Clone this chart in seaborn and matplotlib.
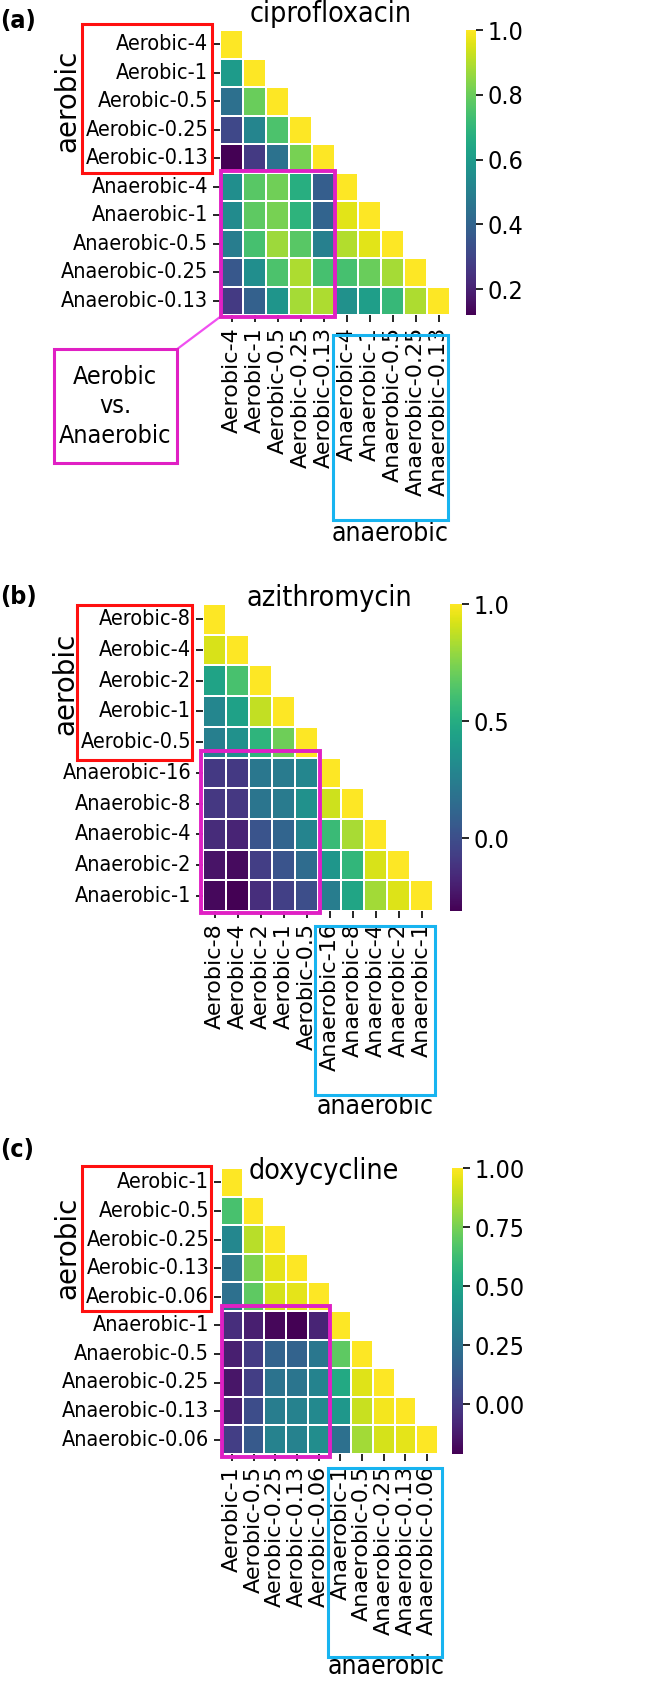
import numpy as np
import pandas as pd
import matplotlib
matplotlib.use("Agg")
import matplotlib.pyplot as plt
import seaborn as sns
from matplotlib.patches import Rectangle

# ---- data (lower triangle, row by row) ----
cipro_labels = ["Aerobic-4", "Aerobic-1", "Aerobic-0.5", "Aerobic-0.25", "Aerobic-0.13",
                "Anaerobic-4", "Anaerobic-1", "Anaerobic-0.5", "Anaerobic-0.25", "Anaerobic-0.13"]
cipro_rows = [
    [1.0],
    [0.60, 1.0],
    [0.44, 0.80, 1.0],
    [0.31, 0.52, 0.75, 1.0],
    [0.12, 0.27, 0.45, 0.82, 1.0],
    [0.55, 0.77, 0.81, 0.67, 0.38, 1.0],
    [0.54, 0.78, 0.82, 0.69, 0.40, 0.96, 1.0],
    [0.49, 0.74, 0.87, 0.77, 0.50, 0.90, 0.96, 1.0],
    [0.36, 0.55, 0.75, 0.89, 0.74, 0.74, 0.80, 0.88, 1.0],
    [0.27, 0.39, 0.58, 0.88, 0.89, 0.56, 0.61, 0.71, 0.89, 1.0],
]

azi_labels = ["Aerobic-8", "Aerobic-4", "Aerobic-2", "Aerobic-1", "Aerobic-0.5",
              "Anaerobic-16", "Anaerobic-8", "Anaerobic-4", "Anaerobic-2", "Anaerobic-1"]
azi_rows = [
    [1.0],
    [0.92, 1.0],
    [0.45, 0.62, 1.0],
    [0.29, 0.44, 0.88, 1.0],
    [0.25, 0.35, 0.54, 0.71, 1.0],
    [-0.09, -0.09, 0.21, 0.23, 0.29, 1.0],
    [-0.10, -0.10, 0.20, 0.23, 0.35, 0.90, 1.0],
    [-0.15, -0.18, 0.03, 0.11, 0.28, 0.58, 0.83, 1.0],
    [-0.24, -0.27, -0.07, 0.03, 0.15, 0.38, 0.55, 0.92, 1.0],
    [-0.28, -0.31, -0.14, -0.06, 0.00, 0.24, 0.46, 0.82, 0.93, 1.0],
]

doxy_labels = ["Aerobic-1", "Aerobic-0.5", "Aerobic-0.25", "Aerobic-0.13", "Aerobic-0.06",
               "Anaerobic-1", "Anaerobic-0.5", "Anaerobic-0.25", "Anaerobic-0.13", "Anaerobic-0.06"]
doxy_rows = [
    [1.0],
    [0.65, 1.0],
    [0.35, 0.87, 1.0],
    [0.25, 0.76, 0.95, 1.0],
    [0.23, 0.70, 0.92, 0.95, 1.0],
    [-0.05, -0.11, -0.19, -0.21, -0.09, 1.0],
    [-0.11, 0.00, 0.17, 0.17, 0.27, 0.70, 1.0],
    [-0.14, 0.01, 0.25, 0.26, 0.33, 0.52, 0.94, 1.0],
    [-0.11, 0.07, 0.30, 0.32, 0.36, 0.43, 0.90, 0.98, 1.0],
    [0.01, 0.13, 0.32, 0.32, 0.38, 0.23, 0.83, 0.92, 0.95, 1.0],
]

panels = ["(a)", "(b)", "(c)"]
titles = ["ciprofloxacin", "azithromycin", "doxycycline"]
cbar_ticks = [[0.2, 0.4, 0.6, 0.8, 1.0], [0.0, 0.5, 1.0], [0.0, 0.25, 0.5, 0.75, 1.0]]
cbar_fmt = ["%.1f", "%.1f", "%.2f"]

# horizontal text in the reference is squeezed, so use the condensed face for it
plt.rcParams["font.family"] = ["DejaVu Sans"]
plt.rcParams["font.stretch"] = "condensed"

W, H = 655, 1682


def to_frame(rows, labels):
    n = len(labels)
    m = np.zeros((n, n))
    for i, r in enumerate(rows):
        for j, v in enumerate(r):
            m[i, j] = v
            m[j, i] = v
    return pd.DataFrame(m, index=labels, columns=labels)


def px_axes(fig, x0, y0, x1, y1):
    return fig.add_axes([x0 / W, 1 - y1 / H, (x1 - x0) / W, (y1 - y0) / H])


def box(ax, x0, y0, x1, y1, color, lw):
    ax.add_patch(Rectangle((x0, y0), x1 - x0, y1 - y0, fill=False, edgecolor=color,
                           linewidth=lw, clip_on=False, zorder=10))


fig = plt.figure(figsize=(W / 100, H / 100), dpi=100)

# pixel layout of each panel: heatmap box, colorbar box; annotations in cell units
layout = [
    dict(hm=(220, 30, 450, 315), cb=(466, 30, 476, 315),
         red=(-6.0, -0.2, -0.35, 5.02), mag=(0.04, 4.95, 5.0, 10.07), cyan=(4.9, 10.7, 9.9, 17.2),
         ylab=(-6.65, 2.5), xlab=(7.4, 17.7), title=(4.8, -0.55), plab=21),
    dict(hm=(203, 604, 433, 911), cb=(450, 604, 462, 911),
         red=(-5.5, 0.03, -0.48, 5.08), mag=(-0.1, 4.8, 5.1, 10.05), cyan=(4.87, 10.5, 10.1, 16.0),
         ylab=(-6.0, 2.6), xlab=(7.5, 16.4), title=(5.5, -0.2), plab=597),
    dict(hm=(221, 1168, 438, 1454), cb=(452, 1168, 463, 1454),
         red=(-6.4, -0.07, -0.46, 5.0), mag=(0.05, 4.83, 5.0, 10.1), cyan=(4.93, 10.5, 10.2, 17.1),
         ylab=(-7.1, 2.8), xlab=(7.6, 17.45), title=(4.75, 0.1), plab=1150),
]

data = [(cipro_rows, cipro_labels), (azi_rows, azi_labels), (doxy_rows, doxy_labels)]

for k, ((rows, labels), lay) in enumerate(zip(data, layout)):
    df = to_frame(rows, labels)
    mask = np.triu(np.ones(df.shape, dtype=bool), k=1)
    ax = px_axes(fig, *lay["hm"])
    cax = px_axes(fig, *lay["cb"])
    sns.heatmap(df, mask=mask, cmap="viridis", linewidths=1.2, linecolor="white",
                ax=ax, cbar_ax=cax, cbar_kws={"ticks": cbar_ticks[k], "format": cbar_fmt[k]})
    ax.set_xticklabels(labels, rotation=90, fontsize=16, fontstretch="normal")
    ax.set_yticklabels(labels, rotation=0, fontsize=15.5)
    ax.tick_params(length=5, width=1.2)
    cax.tick_params(labelsize=18, length=5, width=1.2)

    box(ax, *lay["red"], color="#ff1010", lw=2.2)
    box(ax, *lay["mag"], color="#e020c4", lw=2.8)
    box(ax, *lay["cyan"], color="#18b4f0", lw=2.2)

    ax.text(*lay["ylab"], "aerobic", rotation=90, ha="center", va="center",
            fontsize=20, fontstretch="normal")
    ax.text(*lay["xlab"], "anaerobic", ha="center", va="center", fontsize=19)
    ax.text(*lay["title"], titles[k], ha="center", va="center", fontsize=20.5)
    fig.text(0.0, 1 - lay["plab"] / H, panels[k], ha="left", va="center",
             fontsize=18, fontweight="bold")

    if k == 0:
        # callout for the aerobic vs. anaerobic block
        box(ax, -7.2, 11.2, -1.87, 15.2, color="#e020c4", lw=2.2)
        ax.plot([0.0, -1.87], [10.07, 11.2], color="#f050f0", lw=1.6, clip_on=False, zorder=9)
        ax.text(-4.55, 13.2, "Aerobic\nvs.\nAnaerobic", ha="center", va="center",
                fontsize=18, linespacing=1.3)

fig.savefig("out.png", dpi=100)
